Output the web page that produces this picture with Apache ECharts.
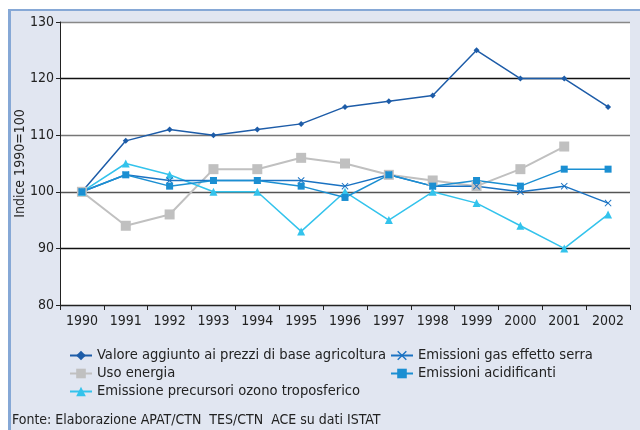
<!DOCTYPE html>
<html>
<head>
<meta charset="utf-8">
<script src="https://cdn.jsdelivr.net/npm/echarts@6/dist/echarts.min.js"></script>
<style>
  html, body { margin: 0; padding: 0; background: #ffffff; }
</style>
</head>
<body>
<!-- contenitore del grafico -->
<div id="chart" style="width: 640px; height: 430px"></div>
<script>
// anni
var years = ["1990", "1991", "1992", "1993", "1994", "1995", "1996", "1997", "1998", "1999", "2000", "2001", "2002"];
// serie (indice 1990=100)
var valoreAggiunto = [100, 109, 111, 110, 111, 112, 115, 116, 117, 125, 120, 120, 115];
var usoEnergia = [100, 94, 96, 104, 104, 106, 105, 103, 102, 101, 104, 108, null];
var ozono = [100, 105, 103, 100, 100, 93, 100, 95, 100, 98, 94, 90, 96];
var gasSerra = [100, 103, 102, 102, 102, 102, 101, 103, 101, 101, 100, 101, 98];
var acidificanti = [100, 103, 101, 102, 102, 101, 99, 103, 101, 102, 101, 104, 104];

var font = '"Liberation Sans Narrow", "DejaVu Sans Condensed", "Liberation Sans", sans-serif';
var crossSymbol = "path://M1,0L5,4L9,0L10,1L6,5L10,9L9,10L5,6L1,10L0,9L4,5L0,1Z";

var chart = echarts.init(document.getElementById("chart"));

function serie(name, data, color, symbol, size, width) {
  return {
    name: name,
    type: "line",
    data: data,
    symbol: symbol,
    symbolSize: size,
    showSymbol: true,
    connectNulls: false,
    animation: false,
    itemStyle: { color: color },
    lineStyle: { color: color, width: width }
  };
}

var legendStyle = { fontSize: 14.6, color: "#222", fontFamily: font };

chart.setOption({
  textStyle: { fontFamily: font },
  graphic: [
    {
      type: "rect",
      z: -10,
      shape: { x: 8, y: 9, width: 640, height: 430 },
      style: { fill: "#e1e6f1", stroke: null }
    },
    {
      type: "rect",
      z: -9,
      shape: { x: 8, y: 9, width: 3, height: 430 },
      style: { fill: "#86a8d6" }
    },
    {
      type: "rect",
      z: -9,
      shape: { x: 8, y: 9, width: 640, height: 2 },
      style: { fill: "#86a8d6" }
    },
    {
      type: "text",
      left: 12,
      top: 413,
      style: {
        text: "Fonte: Elaborazione APAT/CTN  TES/CTN  ACE su dati ISTAT",
        fill: "#222",
        font: "14px " + font
      }
    }
  ],
  grid: {
    left: 60,
    right: 10,
    top: 22,
    bottom: 125,
    show: true,
    backgroundColor: "#ffffff",
    borderWidth: 0
  },
  legend: [
    {
      orient: "vertical",
      left: 69,
      top: 348,
      padding: 0,
      itemWidth: 22,
      itemHeight: 12,
      itemGap: 3,
      textStyle: legendStyle,
      data: ["Valore aggiunto ai prezzi di base agricoltura", "Uso energia", "Emissione precursori ozono troposferico"]
    },
    {
      orient: "vertical",
      left: 390,
      top: 348,
      padding: 0,
      itemWidth: 22,
      itemHeight: 12,
      itemGap: 3,
      textStyle: legendStyle,
      data: ["Emissioni gas effetto serra", "Emissioni acidificanti"]
    }
  ],
  xAxis: {
    type: "category",
    data: years,
    boundaryGap: true,
    axisLine: { lineStyle: { color: "#222", width: 1 } },
    axisTick: { show: true, inside: false, length: 5, lineStyle: { color: "#222" } },
    axisLabel: { color: "#222", fontSize: 14, margin: 9, fontFamily: font }
  },
  yAxis: {
    type: "value",
    min: 80,
    max: 130,
    interval: 10,
    name: "Indice 1990=100",
    nameLocation: "middle",
    nameGap: 33,
    nameMoveOverlap: false,
    nameTextStyle: { color: "#222", fontSize: 14, fontFamily: font },
    axisLine: { show: true, lineStyle: { color: "#222", width: 1 } },
    axisTick: { show: true, length: 4, lineStyle: { color: "#222" } },
    axisLabel: { color: "#222", fontSize: 14, margin: 6, fontFamily: font },
    splitLine: {
      show: true,
      lineStyle: { color: ["#222", "#111", "#555", "#777", "#111", "#888"], width: 1.3 }
    }
  },
  series: [
    serie("Valore aggiunto ai prezzi di base agricoltura", valoreAggiunto, "#1d5ca8", "diamond", 6, 1.5),
    serie("Uso energia", usoEnergia, "#c0c0c0", "rect", 10, 2),
    serie("Emissione precursori ozono troposferico", ozono, "#33c3ec", "triangle", 8, 1.5),
    serie("Emissioni gas effetto serra", gasSerra, "#1a72c2", crossSymbol, 7, 1.5),
    serie("Emissioni acidificanti", acidificanti, "#1b8fd2", "rect", 7, 1.5)
  ]
});

window.addEventListener("resize", function () {
  chart.resize();
});
</script>
</body>
</html>
